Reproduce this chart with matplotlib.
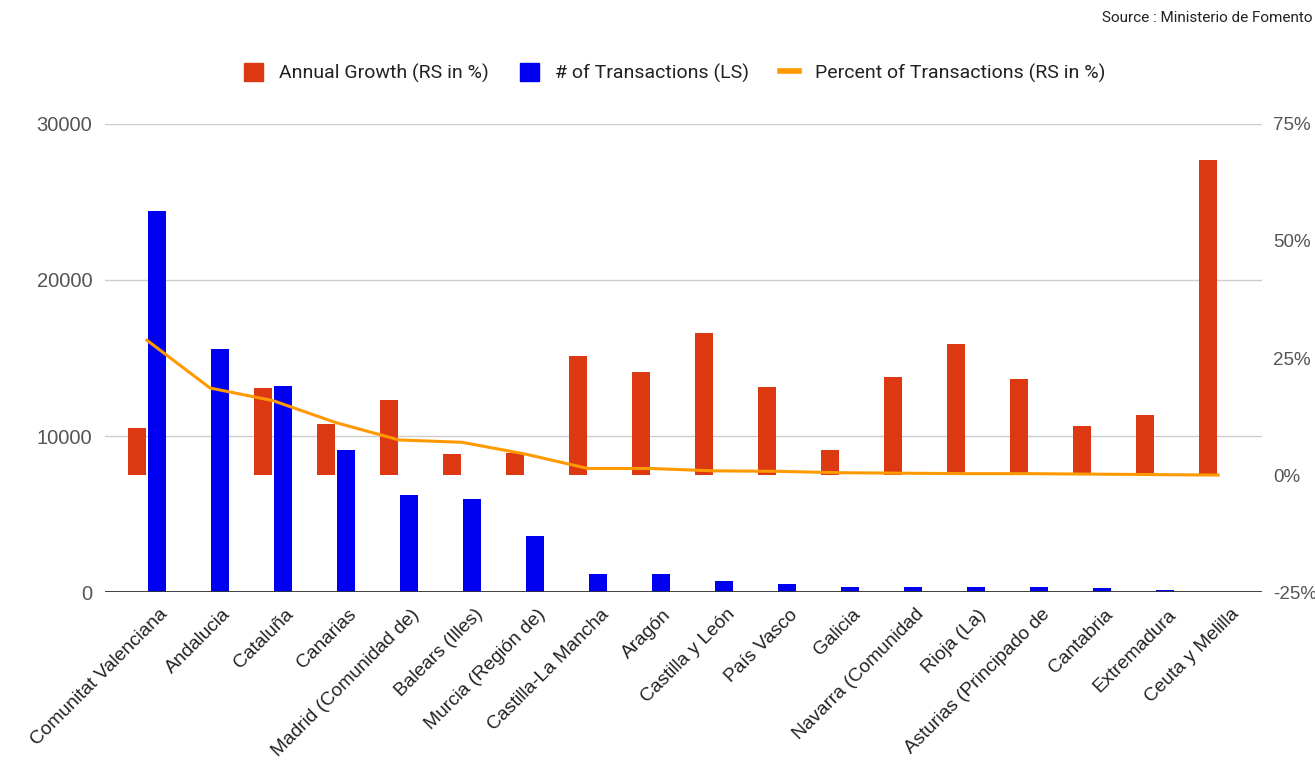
import matplotlib.pyplot as plt
import numpy as np
from matplotlib.patches import Patch
from matplotlib.lines import Line2D
from matplotlib.ticker import FuncFormatter
from matplotlib.transforms import ScaledTranslation

regions = ['Comunitat Valenciana', 'Andalucia', 'Cataluña', 'Canarias',
           'Madrid (Comunidad de)', 'Balears (Illes)', 'Murcia (Región de)',
           'Castilla-La Mancha', 'Aragón', 'Castilla y León', 'País Vasco',
           'Galicia', 'Navarra (Comunidad', 'Rioja (La)', 'Asturias (Principado de',
           'Cantabria', 'Extremadura', 'Ceuta y Melilla']

# annual growth, % (right scale)
growth = [10.0, 0.0, 18.6, 10.9, 16.1, 4.5, 4.7, 25.5, 22.1, 30.4, 18.9,
          5.4, 21.0, 28.0, 20.6, 10.4, 12.9, 67.4]
# number of transactions (left scale)
transactions = [24440, 15580, 13220, 9080, 6240, 5960, 3610, 1170, 1170, 740,
                530, 320, 320, 320, 320, 250, 150, 20]
# share of all transactions, % (right scale)
pct_transactions = [28.8, 18.6, 15.9, 11.2, 7.5, 7.0, 4.5, 1.4, 1.4, 0.9, 0.8,
                    0.5, 0.4, 0.3, 0.3, 0.2, 0.1, 0.0]

RED = '#dc3912'
BLUE = '#0000f0'
ORANGE = '#ff9900'
TXT = '#555555'

plt.rcParams['font.family'] = ['Liberation Sans', 'DejaVu Sans']

fig = plt.figure(figsize=(13.15, 7.65), dpi=100)
ax = fig.add_axes([0.0798, 0.226, 0.880, 0.612])
ax2 = ax.twinx()

x = np.arange(len(regions))
w = 0.285
gap = 0.016

ax.bar(x + w / 2 + gap, transactions, width=w, color=BLUE, zorder=2)
ax2.bar(x - w / 2 - gap, growth, width=w, color=RED, zorder=2)
ax2.plot(x, pct_transactions, color=ORANGE, lw=2.2, zorder=3)

ax.set_ylim(0, 30000)
ax.set_yticks([0, 10000, 20000, 30000])
ax2.set_ylim(-25, 75)
ax2.set_yticks([-25, 0, 25, 50, 75])
ax2.yaxis.set_major_formatter(FuncFormatter(lambda v, p: f'{v:.0f}%'))
ax.set_xlim(-0.667, 17.70)

ax.grid(axis='y', color='#cccccc', lw=1, zorder=0)
ax.set_axisbelow(True)
for a in (ax, ax2):
    for s in a.spines.values():
        s.set_visible(False)
    a.tick_params(length=0, colors=TXT)
ax.axhline(0, color='#333333', lw=1.3, zorder=4)

ax.tick_params(axis='y', pad=9, labelsize=14.5)
ax2.tick_params(axis='y', pad=8, labelsize=13.5)
ax.set_xticks(x)
ax.set_xticklabels(regions, rotation=45, ha='right', rotation_mode='anchor',
                   fontsize=13.8, color='#222222')
ax.tick_params(axis='x', pad=10)
shift = ScaledTranslation(12 / 100, 0, fig.dpi_scale_trans)
for lab in ax.get_xticklabels():
    lab.set_transform(lab.get_transform() + shift)

handles = [Patch(color=RED), Patch(color=BLUE),
           Line2D([0], [0], color=ORANGE, lw=4)]
labels = ['Annual Growth (RS in %)', '# of Transactions (LS)',
          'Percent of Transactions (RS in %)']
fig.legend(handles, labels, loc='center', bbox_to_anchor=(0.513, 0.905),
           ncol=3, frameon=False, handlelength=1.0, handleheight=1.1,
           handletextpad=0.8, columnspacing=1.6,
           prop={'family': 'Roboto', 'size': 14}, labelcolor='#222222')

fig.text(0.998, 0.977, 'Source : Ministerio de Fomento', ha='right', va='center',
         fontsize=11, color='#222222', family='Roboto')

fig.savefig('out.png', dpi=100, facecolor='white')
